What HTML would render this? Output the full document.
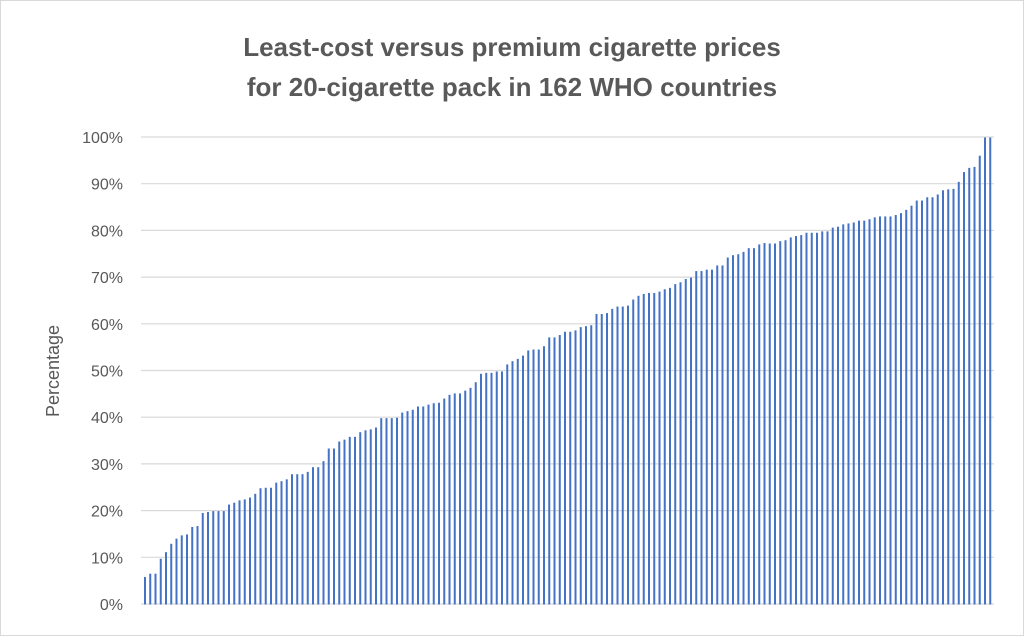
<!DOCTYPE html>
<html><head><meta charset="utf-8"><style>
body{margin:0;background:#fff;}
#c{position:relative;width:1022px;height:634px;border:1px solid #d9d9d9;}
</style></head><body><div id="c">
<svg width="1022" height="634" xmlns="http://www.w3.org/2000/svg" font-family="Liberation Sans, sans-serif">
<text x="511" y="55" text-anchor="middle" font-size="26" font-weight="bold" fill="#595959">Least-cost versus premium cigarette prices</text>
<text x="511" y="95" text-anchor="middle" font-size="26" font-weight="bold" fill="#595959">for 20-cigarette pack in 162 WHO countries</text>
<text transform="translate(58,370) rotate(-90)" text-anchor="middle" font-size="18" fill="#595959">Percentage</text>
<g stroke="#d9d9d9" stroke-width="1.2">
<line x1="140" x2="993" y1="603" y2="603"/><line x1="140" x2="993" y1="556.3" y2="556.3"/><line x1="140" x2="993" y1="509.6" y2="509.6"/><line x1="140" x2="993" y1="462.9" y2="462.9"/><line x1="140" x2="993" y1="416.2" y2="416.2"/><line x1="140" x2="993" y1="369.5" y2="369.5"/><line x1="140" x2="993" y1="322.8" y2="322.8"/><line x1="140" x2="993" y1="276.1" y2="276.1"/><line x1="140" x2="993" y1="229.4" y2="229.4"/><line x1="140" x2="993" y1="182.7" y2="182.7"/><line x1="140" x2="993" y1="136" y2="136"/>
</g>
<g font-size="16" fill="#595959" text-anchor="end">
<text x="122" y="609">0%</text><text x="122" y="562.3">10%</text><text x="122" y="515.6">20%</text><text x="122" y="468.9">30%</text><text x="122" y="422.2">40%</text><text x="122" y="375.5">50%</text><text x="122" y="328.8">60%</text><text x="122" y="282.1">70%</text><text x="122" y="235.4">80%</text><text x="122" y="188.7">90%</text><text x="122" y="142">100%</text>
</g>
<g transform="translate(0,603.5) scale(1,-4.67)" fill="#4472c4">
<rect width="2" x="143" height="5.9"/><rect width="2" x="148.25" height="6.6"/><rect width="2" x="153.5" height="6.6"/><rect width="2" x="158.75" height="9.8"/>
<rect width="2" x="164" height="11.2"/><rect width="2" x="169.25" height="13"/><rect width="2" x="174.5" height="14.1"/><rect width="2" x="179.75" height="14.8"/>
<rect width="2" x="185" height="15"/><rect width="2" x="190.25" height="16.6"/><rect width="2" x="195.5" height="16.8"/><rect width="2" x="200.75" height="19.6"/>
<rect width="2" x="206" height="19.8"/><rect width="2" x="211.25" height="20"/><rect width="2" x="216.5" height="20"/><rect width="2" x="221.75" height="20"/>
<rect width="2" x="227" height="21.4"/><rect width="2" x="232.25" height="21.8"/><rect width="2" x="237.5" height="22.3"/><rect width="2" x="242.75" height="22.5"/>
<rect width="2" x="248" height="22.9"/><rect width="2" x="253.25" height="23.7"/><rect width="2" x="258.5" height="24.9"/><rect width="2" x="263.75" height="25"/>
<rect width="2" x="269" height="25"/><rect width="2" x="274.25" height="26.1"/><rect width="2" x="279.5" height="26.4"/><rect width="2" x="284.75" height="26.8"/>
<rect width="2" x="290" height="27.9"/><rect width="2" x="295.25" height="27.9"/><rect width="2" x="300.5" height="27.9"/><rect width="2" x="305.75" height="28.4"/>
<rect width="2" x="311" height="29.4"/><rect width="2" x="316.25" height="29.4"/><rect width="2" x="321.5" height="30.7"/><rect width="2" x="326.75" height="33.4"/>
<rect width="2" x="332" height="33.4"/><rect width="2" x="337.25" height="34.9"/><rect width="2" x="342.5" height="35.3"/><rect width="2" x="347.75" height="35.9"/>
<rect width="2" x="353" height="35.9"/><rect width="2" x="358.25" height="36.9"/><rect width="2" x="363.5" height="37.3"/><rect width="2" x="368.75" height="37.5"/>
<rect width="2" x="374" height="37.9"/><rect width="2" x="379.25" height="39.9"/><rect width="2" x="384.5" height="39.9"/><rect width="2" x="389.75" height="39.9"/>
<rect width="2" x="395" height="40"/><rect width="2" x="400.25" height="41.1"/><rect width="2" x="405.5" height="41.4"/><rect width="2" x="410.75" height="41.7"/>
<rect width="2" x="416" height="42.4"/><rect width="2" x="421.25" height="42.4"/><rect width="2" x="426.5" height="42.8"/><rect width="2" x="431.75" height="43.1"/>
<rect width="2" x="437" height="43.2"/><rect width="2" x="442.25" height="44.1"/><rect width="2" x="447.5" height="44.9"/><rect width="2" x="452.75" height="45.2"/>
<rect width="2" x="458" height="45.2"/><rect width="2" x="463.25" height="45.8"/><rect width="2" x="468.5" height="46.4"/><rect width="2" x="473.75" height="47.6"/>
<rect width="2" x="479" height="49.4"/><rect width="2" x="484.25" height="49.6"/><rect width="2" x="489.5" height="49.6"/><rect width="2" x="494.75" height="49.9"/>
<rect width="2" x="500" height="49.9"/><rect width="2" x="505.25" height="51.4"/><rect width="2" x="510.5" height="52.1"/><rect width="2" x="515.75" height="52.6"/>
<rect width="2" x="521" height="53.3"/><rect width="2" x="526.25" height="54.4"/><rect width="2" x="531.5" height="54.6"/><rect width="2" x="536.75" height="54.6"/>
<rect width="2" x="542" height="55.3"/><rect width="2" x="547.25" height="57.2"/><rect width="2" x="552.5" height="57.2"/><rect width="2" x="557.75" height="57.7"/>
<rect width="2" x="563" height="58.4"/><rect width="2" x="568.25" height="58.4"/><rect width="2" x="573.5" height="58.7"/><rect width="2" x="578.75" height="59.4"/>
<rect width="2" x="584" height="59.6"/><rect width="2" x="589.25" height="59.8"/><rect width="2" x="594.5" height="62.2"/><rect width="2" x="599.75" height="62.2"/>
<rect width="2" x="605" height="62.4"/><rect width="2" x="610.25" height="63.3"/><rect width="2" x="615.5" height="63.8"/><rect width="2" x="620.75" height="63.8"/>
<rect width="2" x="626" height="64"/><rect width="2" x="631.25" height="65.3"/><rect width="2" x="636.5" height="66.1"/><rect width="2" x="641.75" height="66.5"/>
<rect width="2" x="647" height="66.7"/><rect width="2" x="652.25" height="66.7"/><rect width="2" x="657.5" height="67"/><rect width="2" x="662.75" height="67.5"/>
<rect width="2" x="668" height="67.8"/><rect width="2" x="673.25" height="68.6"/><rect width="2" x="678.5" height="69"/><rect width="2" x="683.75" height="69.7"/>
<rect width="2" x="689" height="70"/><rect width="2" x="694.25" height="71.4"/><rect width="2" x="699.5" height="71.4"/><rect width="2" x="704.75" height="71.7"/>
<rect width="2" x="710" height="71.7"/><rect width="2" x="715.25" height="72.6"/><rect width="2" x="720.5" height="72.6"/><rect width="2" x="725.75" height="74.3"/>
<rect width="2" x="731" height="74.8"/><rect width="2" x="736.25" height="75"/><rect width="2" x="741.5" height="75.5"/><rect width="2" x="746.75" height="76.3"/>
<rect width="2" x="752" height="76.3"/><rect width="2" x="757.25" height="77.1"/><rect width="2" x="762.5" height="77.4"/><rect width="2" x="767.75" height="77.3"/>
<rect width="2" x="773" height="77.3"/><rect width="2" x="778.25" height="77.8"/><rect width="2" x="783.5" height="78"/><rect width="2" x="788.75" height="78.6"/>
<rect width="2" x="794" height="78.9"/><rect width="2" x="799.25" height="79.1"/><rect width="2" x="804.5" height="79.6"/><rect width="2" x="809.75" height="79.6"/>
<rect width="2" x="815" height="79.6"/><rect width="2" x="820.25" height="79.9"/><rect width="2" x="825.5" height="79.9"/><rect width="2" x="830.75" height="80.7"/>
<rect width="2" x="836" height="80.9"/><rect width="2" x="841.25" height="81.4"/><rect width="2" x="846.5" height="81.6"/><rect width="2" x="851.75" height="81.8"/>
<rect width="2" x="857" height="82.2"/><rect width="2" x="862.25" height="82.2"/><rect width="2" x="867.5" height="82.5"/><rect width="2" x="872.75" height="82.9"/>
<rect width="2" x="878" height="83.1"/><rect width="2" x="883.25" height="83.1"/><rect width="2" x="888.5" height="83.1"/><rect width="2" x="893.75" height="83.4"/>
<rect width="2" x="899" height="83.8"/><rect width="2" x="904.25" height="84.5"/><rect width="2" x="909.5" height="85.4"/><rect width="2" x="914.75" height="86.5"/>
<rect width="2" x="920" height="86.5"/><rect width="2" x="925.25" height="87.2"/><rect width="2" x="930.5" height="87.2"/><rect width="2" x="935.75" height="87.8"/>
<rect width="2" x="941" height="88.7"/><rect width="2" x="946.25" height="88.9"/><rect width="2" x="951.5" height="89"/><rect width="2" x="956.75" height="90.5"/>
<rect width="2" x="962" height="92.6"/><rect width="2" x="967.25" height="93.5"/><rect width="2" x="972.5" height="93.7"/><rect width="2" x="977.75" height="96.1"/>
<rect width="2" x="983" height="100"/><rect width="2" x="988.25" height="100"/>
</g>
</svg></div></body></html>
